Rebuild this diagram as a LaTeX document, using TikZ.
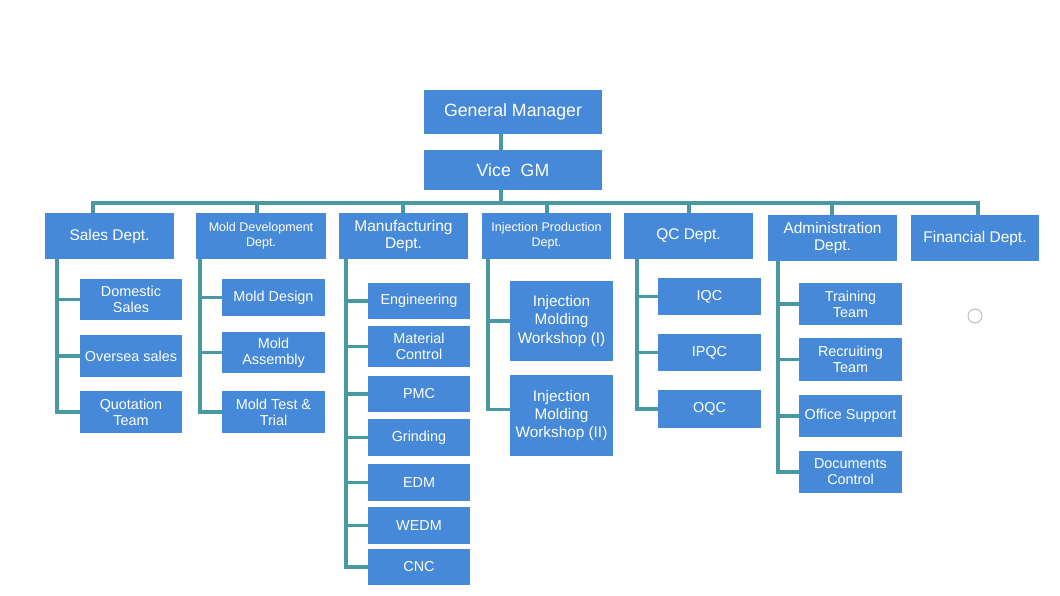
\documentclass[tikz,border=0pt]{standalone}
\usepackage{fontspec}
\setmainfont{Liberation Sans}
\definecolor{boxblue}{RGB}{70,137,216}
\definecolor{lineteal}{RGB}{72,153,162}
\begin{document}
\begin{tikzpicture}[x=0.75pt,y=-0.75pt,
  box/.style={fill=boxblue,text=white,inner sep=0pt,align=center,anchor=center},
  sz/.style 2 args={minimum width=#1*0.75pt,minimum height=#2*0.75pt},
  ftop/.style={font=\fontsize{13.3pt}{15pt}\selectfont},
  fdept/.style={font=\fontsize{11.6pt}{13pt}\selectfont},
  fsmall/.style={font=\fontsize{9.4pt}{11pt}\selectfont},
  fchild/.style={font=\fontsize{10.8pt}{12pt}\selectfont},
  fimw/.style={font=\fontsize{11.5pt}{13.7pt}\selectfont},
  conn/.style={draw=lineteal,line width=2.4pt}]
\useasboundingbox (0,0) rectangle (1060,596);
\fill[white] (0,0) rectangle (1060,596);

% top
\node[box,sz={178}{44},ftop] (gm) at (513,112) {General Manager};
\node[box,sz={178}{40},ftop] (vice) at (513,170) {Vice\ \ GM};

% departments
\node[box,sz={129}{46},fdept] (sales) at (109.5,236) {Sales Dept.};
\node[box,sz={130}{46},fsmall] (mold) at (261,236) {Mold Development\\Dept.};
\node[box,sz={129}{46},fdept] (manu) at (403.5,236) {Manufacturing\\Dept.};
\node[box,sz={129}{46},fsmall] (inj) at (546.5,236) {Injection Production\\Dept.};
\node[box,sz={129}{46},fdept] (qc) at (688.5,236) {QC Dept.};
\node[box,sz={129}{46},fdept] (adm) at (832.5,238) {Administration\\Dept.};
\node[box,sz={128}{46},fdept] (fin) at (975,238) {Financial Dept.};

% sales children
\node[box,sz={102}{41},fchild] (dom) at (131,299.5) {Domestic\\Sales};
\node[box,sz={102}{42},fchild] (ovs) at (131,356) {Oversea sales};
\node[box,sz={102}{42},fchild] (quo) at (131,412) {Quotation\\Team};

% mold children
\node[box,sz={103}{37},fchild] (mdes) at (273.5,297.5) {Mold Design};
\node[box,sz={103}{41},fchild] (mass) at (273.5,352.5) {Mold\\Assembly};
\node[box,sz={103}{42},fchild] (mtest) at (273.5,412) {Mold Test \&\\Trial};

% manufacturing children
\node[box,sz={102}{36},fchild] (eng) at (419,301) {Engineering};
\node[box,sz={102}{41},fchild] (mat) at (419,346.5) {Material\\Control};
\node[box,sz={102}{36},fchild] (pmc) at (419,394) {PMC};
\node[box,sz={102}{37},fchild] (grd) at (419,437.5) {Grinding};
\node[box,sz={102}{37},fchild] (edm) at (419,482.5) {EDM};
\node[box,sz={102}{37},fchild] (wedm) at (419,525.5) {WEDM};
\node[box,sz={102}{36},fchild] (cnc) at (419,567) {CNC};

% injection children
\node[box,sz={103}{80},fimw] (imw1) at (561.5,321) {Injection\\Molding\\Workshop (I)};
\node[box,sz={103}{81},fimw] (imw2) at (561.5,415.5) {Injection\\Molding\\Workshop (II)};

% qc children
\node[box,sz={103}{37},fchild] (iqc) at (709.5,296.5) {IQC};
\node[box,sz={103}{37},fchild] (ipqc) at (709.5,352.5) {IPQC};
\node[box,sz={103}{38},fchild] (oqc) at (709.5,409) {OQC};

% admin children
\node[box,sz={103}{42},fchild] (trn) at (850.5,304) {Training\\Team};
\node[box,sz={103}{43},fchild] (rec) at (850.5,359.5) {Recruiting\\Team};
\node[box,sz={103}{42},fchild] (off) at (850.5,416) {Office Support};
\node[box,sz={103}{42},fchild] (doc) at (850.5,472) {Documents\\Control};

% top connectors
\coordinate (bus) at (501,203);
\draw[conn] (gm.south -| bus) -- (vice.north -| bus);
\draw[conn] (vice.south -| bus) -- (bus);
\coordinate (d1) at (93,203);
\coordinate (d2) at (257,203);
\coordinate (d3) at (403,203);
\coordinate (d4) at (547,203);
\coordinate (d5) at (689,203);
\coordinate (d6) at (832,203);
\coordinate (d7) at (978,203);
\draw[conn] ([xshift=-1.2pt]d1) -- ([xshift=1.2pt]d7);
\draw[conn] (d1) -- (sales.north -| d1);
\draw[conn] (d2) -- (mold.north -| d2);
\draw[conn] (d3) -- (manu.north -| d3);
\draw[conn] (d4) -- (inj.north -| d4);
\draw[conn] (d5) -- (qc.north -| d5);
\draw[conn] (d6) -- (adm.north -| d6);
\draw[conn] (d7) -- (fin.north -| d7);

% spines
\coordinate (s1) at (57,259);
\coordinate (s2) at (200,259);
\coordinate (s3) at (346,259);
\coordinate (s4) at (488,259);
\coordinate (s5) at (637,259);
\coordinate (s6) at (778,261);
\draw[conn] (s1) |- (dom.west);
\draw[conn] (s1) |- (ovs.west);
\draw[conn] (s1) |- (quo.west);
\draw[conn] (s2) |- (mdes.west);
\draw[conn] (s2) |- (mass.west);
\draw[conn] (s2) |- (mtest.west);
\draw[conn] (s3) |- (eng.west);
\draw[conn] (s3) |- (mat.west);
\draw[conn] (s3) |- (pmc.west);
\draw[conn] (s3) |- (grd.west);
\draw[conn] (s3) |- (edm.west);
\draw[conn] (s3) |- (wedm.west);
\draw[conn] (s3) |- (cnc.west);
\draw[conn] (s4) |- (imw1.west);
\draw[conn] (s4) |- ([yshift=4.5pt]imw2.west);
\draw[conn] (s5) |- (iqc.west);
\draw[conn] (s5) |- (ipqc.west);
\draw[conn] (s5) |- (oqc.west);
\draw[conn] (s6) |- (trn.west);
\draw[conn] (s6) |- (rec.west);
\draw[conn] (s6) |- (off.west);
\draw[conn] (s6) |- (doc.west);

% small circle mark
\node[circle,draw=gray!60,line width=0.6pt,minimum size=10.5pt,inner sep=0pt] (dot) at (975,316) {};
\end{tikzpicture}
\end{document}
